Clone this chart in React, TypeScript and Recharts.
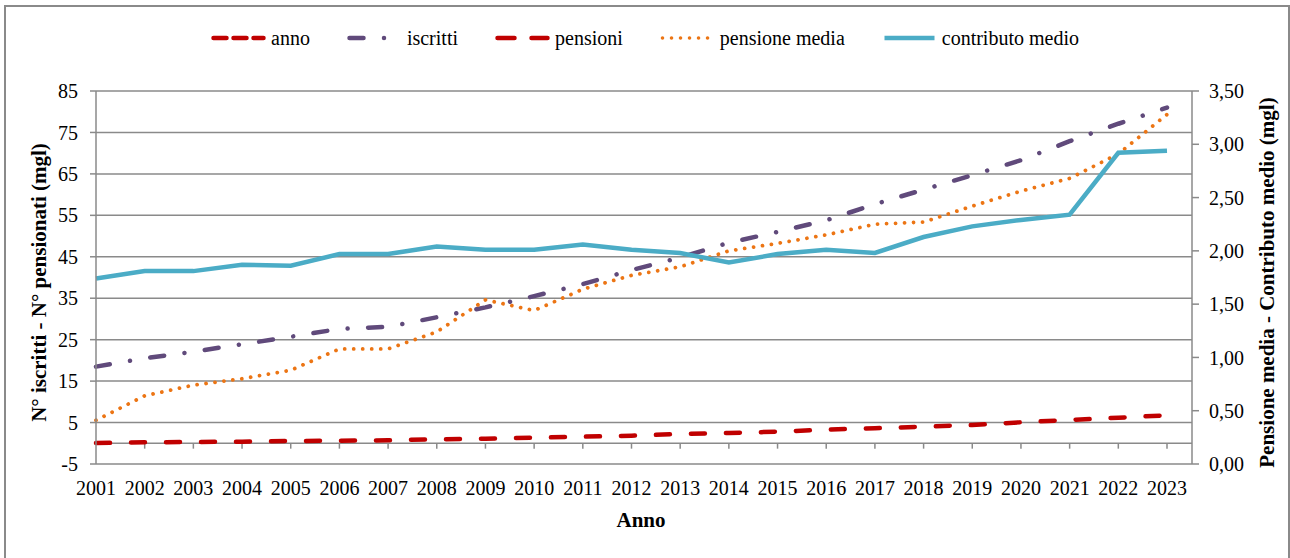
import React from 'react';
import { LineChart, Line, XAxis, YAxis, CartesianGrid, ReferenceLine, Label } from 'recharts';

const years = [
  '2001', '2002', '2003', '2004', '2005', '2006', '2007', '2008', '2009', '2010', '2011', '2012',
  '2013', '2014', '2015', '2016', '2017', '2018', '2019', '2020', '2021', '2022', '2023',
];
// left axis (migliaia)
const iscritti = [18.5, 20.5, 22.1, 23.9, 25.7, 27.6, 28.1, 30.4, 32.8, 35.5, 38.4, 41.8, 44.8, 48.4, 51.0, 53.8, 57.7, 61.2, 64.7, 68.3, 72.9, 77.1, 81.0];
const pensioni = [0.05, 0.24, 0.31, 0.39, 0.55, 0.63, 0.72, 0.96, 1.11, 1.35, 1.59, 1.83, 2.24, 2.48, 2.8, 3.3, 3.62, 4.0, 4.41, 5.06, 5.62, 6.17, 6.75];
// right axis (migliaia di euro)
const pensioneMedia = [0.41, 0.64, 0.74, 0.8, 0.88, 1.08, 1.08, 1.24, 1.54, 1.44, 1.64, 1.77, 1.85, 2.0, 2.07, 2.15, 2.25, 2.27, 2.42, 2.56, 2.68, 2.91, 3.28];
const contributoMedio = [1.74, 1.81, 1.81, 1.87, 1.86, 1.97, 1.97, 2.04, 2.01, 2.01, 2.06, 2.01, 1.98, 1.89, 1.97, 2.01, 1.98, 2.13, 2.23, 2.29, 2.34, 2.92, 2.94];

const leftTicks = [-5, 5, 15, 25, 35, 45, 55, 65, 75, 85];
const rightTicks = [0, 0.5, 1, 1.5, 2, 2.5, 3, 3.5];

const data = years.map((year, i) => ({
  year,
  iscritti: iscritti[i],
  pensioni: pensioni[i],
  pensioneMedia: pensioneMedia[i],
  contributoMedio: contributoMedio[i],
}));

const FONT = "'Liberation Serif', 'Times New Roman', serif";
const GRID = '#8a8a8a';
const RED = '#c00000';
const PURPLE = '#604a7b';
const ORANGE = '#ec7514';
const CYAN = '#4bacc6';

const legendItems = [
  { name: 'anno', color: RED, width: 4.5, dash: '13 7' },
  { name: 'iscritti', color: PURPLE, width: 4.5, dash: '14 20.5 0.01 20.5' },
  { name: 'pensioni', color: RED, width: 4.5, dash: '17 17' },
  { name: 'pensione media', color: ORANGE, width: 3.6, dash: '0.01 9' },
  { name: 'contributo medio', color: CYAN, width: 4.5, dash: undefined },
];

const XTick = ({ x, y, payload }: any) => (
  <text x={x} y={y} dy={31} textAnchor="middle" fontFamily={FONT} fontSize={20} fill="#000">
    {payload.value}
  </text>
);

const title = (text: string, dx: number, dy: number, angle: number, fallback: any) => (props: any) => {
  const vb = props && props.viewBox && props.viewBox.width != null ? props.viewBox : fallback;
  const x = (angle ? vb.x : vb.x + vb.width / 2) + dx;
  const y = (angle ? vb.y + vb.height / 2 : vb.y) + dy;
  return (
    <text
      x={x}
      y={y}
      transform={angle ? `rotate(${angle} ${x} ${y})` : undefined}
      textAnchor="middle"
      dominantBaseline="central"
      fontFamily={FONT}
      fontSize={21}
      fontWeight="bold"
      fill="#000"
    >
      {text}
    </text>
  );
};

const Legend = () => (
  <div
    style={{
      position: 'absolute',
      left: 0,
      top: 27,
      width: 1290,
      height: 22,
      display: 'flex',
      justifyContent: 'center',
      alignItems: 'center',
      gap: 37,
      fontFamily: FONT,
      fontSize: 20,
      color: '#000',
      lineHeight: '22px',
    }}
  >
    {legendItems.map((it) => (
      <div key={it.name} style={{ display: 'flex', alignItems: 'center' }}>
        <svg width={55} height={10} style={{ marginRight: 5 }}>
          <line
            x1={2.5}
            y1={5}
            x2={52.5}
            y2={5}
            stroke={it.color}
            strokeWidth={it.width}
            strokeDasharray={it.dash}
            strokeLinecap={it.dash ? 'round' : 'butt'}
          />
        </svg>
        <span>{it.name}</span>
      </div>
    ))}
  </div>
);

export default function App() {
  return (
    <div style={{ position: 'absolute', left: 0, top: 0, width: 1290, height: 558, background: '#fff', overflow: 'hidden' }}>
      <div
        style={{
          position: 'absolute',
          left: 4,
          top: 5,
          width: 1286,
          height: 620,
          border: `2px solid ${GRID}`,
          boxSizing: 'border-box',
        }}
      />
      <Legend />
      <LineChart width={1290} height={558} data={data} margin={{ top: 91, right: 38, bottom: 34, left: 36 }}>
        <CartesianGrid yAxisId="left" vertical={false} stroke={GRID} strokeWidth={1.5} />
        <XAxis
          dataKey="year"
          interval={0}
          height={60}
          padding={{ left: 0, right: 25 }}
          axisLine={false}
          tickLine={false}
          tickSize={0}
          tickMargin={0}
          tick={<XTick />}
        >
          <Label content={title('Anno', -3, 56, 0, { x: 96, y: 464, width: 1096, height: 60 })} />
        </XAxis>
        <YAxis
          yAxisId="left"
          domain={[-5, 85]}
          ticks={leftTicks}
          interval={0}
          width={60}
          tickSize={6}
          tickMargin={12}
          axisLine={{ stroke: GRID, strokeWidth: 1.5 }}
          tickLine={{ stroke: GRID, strokeWidth: 1.5 }}
          tick={{ fontFamily: FONT, fontSize: 20, fill: '#000' }}
        >
          <Label content={title('N° iscritti - N° pensionati (mgl)', 3, 5, -90, { x: 36, y: 91, width: 60, height: 373 })} />
        </YAxis>
        <YAxis
          yAxisId="right"
          orientation="right"
          domain={[0, 3.5]}
          ticks={rightTicks}
          interval={0}
          width={60}
          tickSize={7}
          tickMargin={10}
          axisLine={{ stroke: GRID, strokeWidth: 1.5 }}
          tickLine={{ stroke: GRID, strokeWidth: 1.5 }}
          tick={{ fontFamily: FONT, fontSize: 20, fill: '#000', textAnchor: 'start' }}
          tickFormatter={(v: number) => v.toFixed(2).replace('.', ',')}
        >
          <Label content={title('Pensione media - Contributo medio (mgl)', 75, 5, -90, { x: 1192, y: 91, width: 60, height: 373 })} />
        </YAxis>
        <ReferenceLine yAxisId="left" y={0} stroke={GRID} strokeWidth={1.5} />
        {years.slice(1).map((yr) => (
          <ReferenceLine
            key={yr}
            yAxisId="left"
            segment={[{ x: yr, y: 0 }, { x: yr, y: -1.3 }]}
            stroke={GRID}
            strokeWidth={1.5}
          />
        ))}
        <Line
          yAxisId="left"
          dataKey="iscritti"
          stroke={PURPLE}
          strokeWidth={4.5}
          strokeDasharray="14 20.5 0.01 20.5"
          strokeLinecap="round"
          dot={false}
          isAnimationActive={false}
        />
        <Line
          yAxisId="left"
          dataKey="pensioni"
          stroke={RED}
          strokeWidth={4.5}
          strokeDasharray="14 21"
          strokeLinecap="round"
          dot={false}
          isAnimationActive={false}
        />
        <Line
          yAxisId="right"
          dataKey="pensioneMedia"
          stroke={ORANGE}
          strokeWidth={3.8}
          strokeDasharray="0.01 9"
          strokeLinecap="round"
          dot={false}
          isAnimationActive={false}
        />
        <Line
          yAxisId="right"
          dataKey="contributoMedio"
          stroke={CYAN}
          strokeWidth={4.5}
          dot={false}
          isAnimationActive={false}
        />
      </LineChart>
    </div>
  );
}
